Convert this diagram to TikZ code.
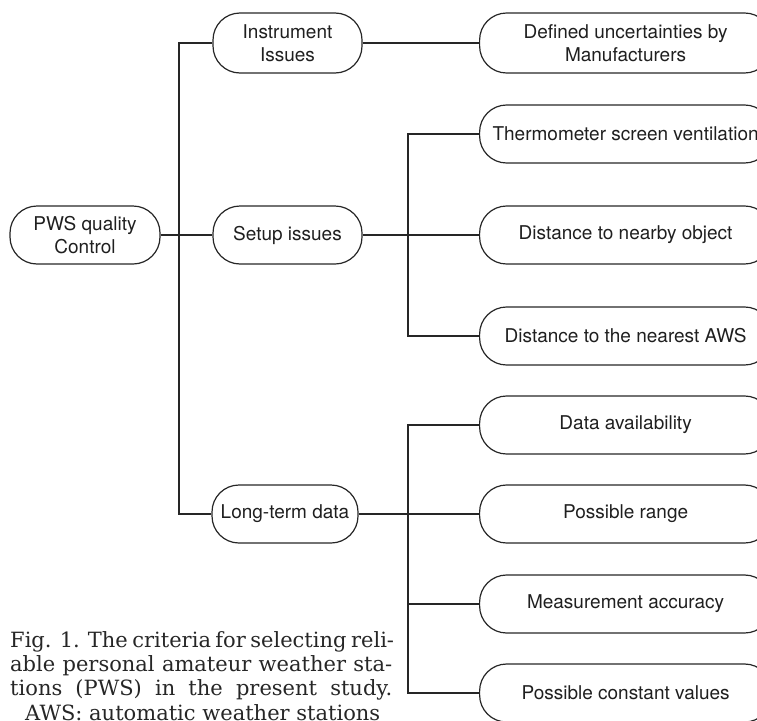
\documentclass[tikz,border=0pt]{standalone}
\usepackage{fontspec}
\newfontfamily\heros{TeX Gyre Heros}
\newfontfamily\capfont{DejaVu Serif}
\usetikzlibrary{calc}

\begin{document}
\begin{tikzpicture}[x=1pt, y=-1pt]
    \tikzset{
        box/.style={
            draw=black!85,
            line width=1.2pt,
            rounded corners=27pt,
            minimum height=58pt,
            inner xsep=5pt,
            align=center,
            text=black!88,
            font=\heros\fontsize{19}{23}\selectfont
        },
        mid box/.style={box, minimum width=149pt},
        leaf box/.style={box, anchor=west, minimum width=292pt, inner xsep=10pt},
        link/.style={draw=black!85, line width=1.2pt},
    }
    \useasboundingbox (0,0) rectangle (757,720);
    \clip (0,0) rectangle (757,720);

    \node[box, minimum width=150pt] (pws) at (85,235) {PWS quality\\Control};

    \node[mid box, minimum height=60pt] (instr) at (287.5,43) {Instrument\\Issues};
    \node[mid box] (setup) at (287.5,235) {Setup issues};
    \node[box, minimum width=146pt, inner xsep=3pt] (longterm) at (285,514) {Long-term data};

    \node[leaf box, minimum height=60pt] (leaf1-1) at (479,43) {Defined uncertainties by\\Manufacturers};

    \node[leaf box] (leaf2-1) at (479,134) {Thermometer screen ventilation};
    \node[leaf box] (leaf2-2) at (479,235) {Distance to nearby object};
    \node[leaf box] (leaf2-3) at (479,336) {Distance to the nearest AWS};

    \node[leaf box] (leaf3-1) at (479,425) {Data availability};
    \node[leaf box] (leaf3-2) at (479,514) {Possible range};
    \node[leaf box] (leaf3-3) at (479,604) {Measurement accuracy};
    \node[leaf box] (leaf3-4) at (479,693) {Possible constant values};

    \coordinate (j1) at (179,235);
    \coordinate (j2) at (408,235);
    \coordinate (j3) at (408,514);

    \draw[link] (pws.east) -- (setup.west);
    \draw[link] (instr.west) -| (j1) |- (longterm.west);
    \draw[link] (instr.east) -- (leaf1-1.west);

    \draw[link] (setup.east) -- (leaf2-2.west);
    \draw[link] (leaf2-1.west) -| (j2) |- (leaf2-3.west);

    \draw[link] (longterm.east) -- (leaf3-2.west);
    \draw[link] (leaf3-1.west) -| (j3) |- (leaf3-4.west);
    \draw[link] (leaf3-3.west) -- (leaf3-3.west -| j3);

    % caption
    \node[anchor=north west, inner sep=0pt, align=left, text=black!85,
          font=\capfont\fontsize{21}{24.3}\selectfont] (cap) at (10,631)
        {\makebox[382pt][s]{Fig. 1. The criteria for selecting reli-}\\
         \makebox[382pt][s]{able personal amateur weather sta-}\\
         \makebox[382pt][s]{tions (PWS) in the present study.}\\
         \hspace*{15pt}AWS: automatic weather stations};
\end{tikzpicture}
\end{document}
